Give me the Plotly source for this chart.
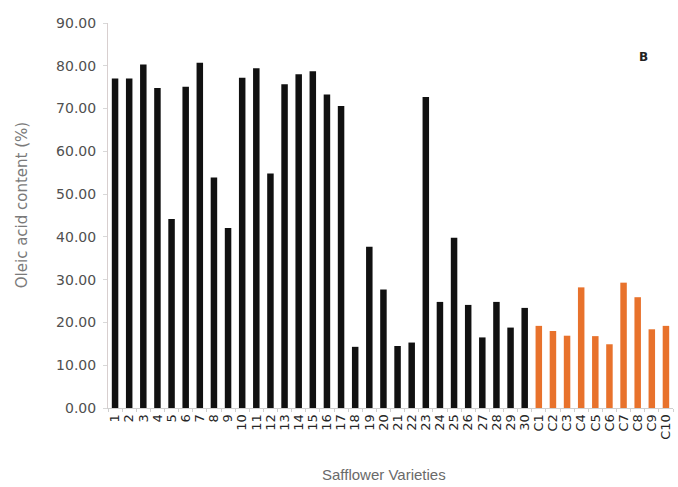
import plotly.graph_objects as go

categories = [str(i) for i in range(1, 31)] + ["C%d" % i for i in range(1, 11)]
values_varieties = [77.0, 77.0, 80.3, 74.8, 44.2, 75.1, 80.7, 53.9, 42.1, 77.2,
                    79.4, 54.8, 75.7, 78.0, 78.7, 73.3, 70.6, 14.3, 37.7, 27.7,
                    14.5, 15.3, 72.7, 24.8, 39.8, 24.1, 16.5, 24.8, 18.8, 23.4]
values_controls = [19.2, 18.0, 16.9, 28.2, 16.8, 14.9, 29.3, 25.9, 18.4, 19.2]
y_ticks = [0, 10, 20, 30, 40, 50, 60, 70, 80, 90]

values = values_varieties + values_controls
colors = ["#111111"] * len(values_varieties) + ["#E8722C"] * len(values_controls)

fig = go.Figure(go.Bar(x=categories, y=values, marker=dict(color=colors, line=dict(width=0)),
                       width=0.46))

fig.update_layout(
    width=678, height=487,
    margin=dict(l=108, r=5, t=23, b=79),
    paper_bgcolor="white", plot_bgcolor="white",
    showlegend=False,
    font=dict(family="DejaVu Sans, sans-serif"),
    bargap=0.54,
)
fig.update_xaxes(
    type="category", range=[-0.5, 39.5], automargin=False,
    tickmode="array", tickvals=categories, ticktext=categories,
    tickangle=-90, tickfont=dict(family="DejaVu Sans", size=13, color="#262626"),
    showline=True, linecolor="#cfcfcf", linewidth=1,
    ticks="outside", ticklen=3, tickcolor="#cfcfcf", tickson="boundaries",
    showgrid=False, zeroline=False,
)
fig.update_yaxes(
    range=[0, 90], tickvals=y_ticks, ticktext=["%.2f" % v for v in y_ticks],
    automargin=False,
    tickfont=dict(family="DejaVu Sans", size=14, color="#505050"),
    showline=True, linecolor="#d8cfcf", linewidth=1,
    ticks="outside", ticklen=4, tickcolor="#d8d8d8",
    showgrid=False, zeroline=False, ticklabelstandoff=4,
)
fig.add_annotation(text="Oleic acid content (%)", xref="paper", yref="paper",
                   x=-0.152, y=0.527, xanchor="center", yanchor="middle",
                   textangle=-90, showarrow=False,
                   font=dict(family="DejaVu Sans", size=15, color="#7a7a7a"))
fig.add_annotation(text="Safflower Varieties", xref="paper", yref="paper",
                   x=0.488, y=-0.174, xanchor="center", yanchor="middle",
                   showarrow=False,
                   font=dict(family="Liberation Sans", size=15, color="#6a6a6a"))
fig.add_annotation(text="<b>B</b>", xref="paper", yref="paper",
                   x=0.947, y=0.912, xanchor="center", yanchor="middle",
                   showarrow=False,
                   font=dict(family="DejaVu Sans", size=12, color="#222222"))

fig.write_html("out.html", config={"displayModeBar": False},
               post_script="document.body.style.margin='0';")
